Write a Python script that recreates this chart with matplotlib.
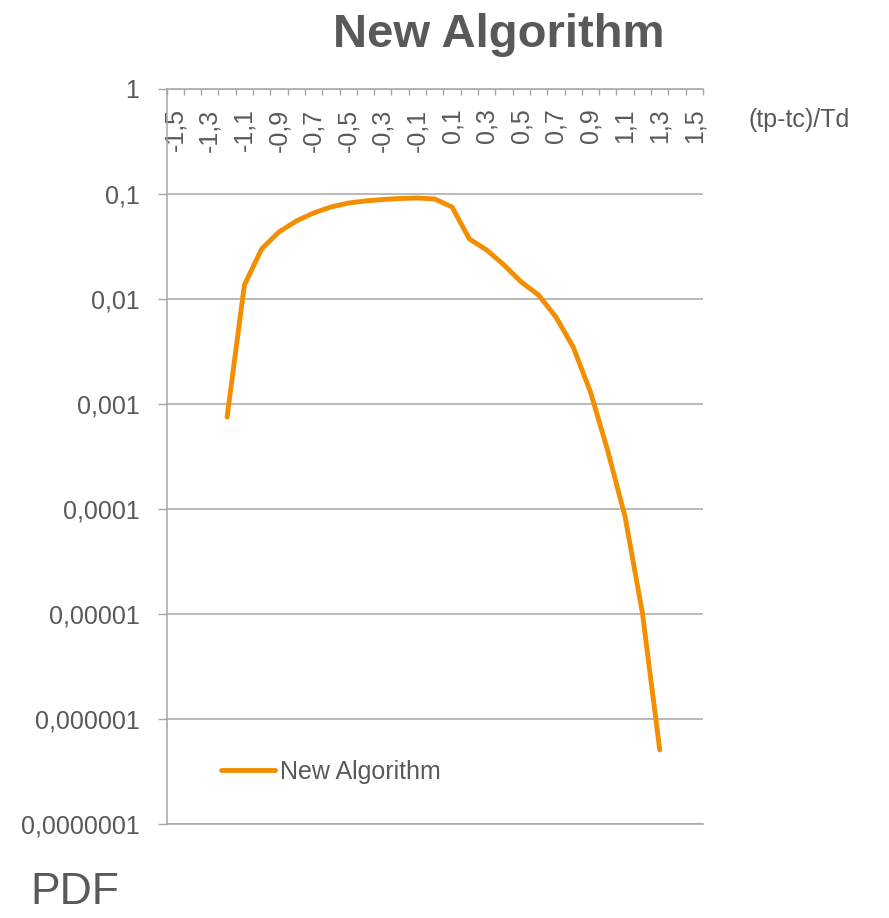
import matplotlib
matplotlib.use('Agg')
import matplotlib.pyplot as plt
from matplotlib.ticker import FixedLocator, NullFormatter

plt.rcParams['font.family'] = ['Liberation Sans', 'DejaVu Sans']

# data
x_vals = [-1.2, -1.1, -1.0, -0.9, -0.8, -0.7, -0.6, -0.5, -0.4, -0.3, -0.2, -0.1, 0.0,
          0.1, 0.2, 0.3, 0.4, 0.5, 0.6, 0.7, 0.8, 0.9, 1.0, 1.1, 1.2, 1.3]
pdf_vals = [7.5e-4, 0.0136, 0.030, 0.0435, 0.0553, 0.066, 0.0752, 0.082, 0.0858, 0.0887,
            0.0906, 0.0916, 0.0896, 0.0752, 0.0373, 0.0293, 0.0211, 0.0145, 0.0109,
            0.00674, 0.00349, 0.0013, 3.57e-4, 8.4e-5, 1.02e-5, 5.07e-7]

x_labels = ['-1,5', '-1,3', '-1,1', '-0,9', '-0,7', '-0,5', '-0,3', '-0,1',
            '0,1', '0,3', '0,5', '0,7', '0,9', '1,1', '1,3', '1,5']
x_label_pos = [-1.5, -1.3, -1.1, -0.9, -0.7, -0.5, -0.3, -0.1,
               0.1, 0.3, 0.5, 0.7, 0.9, 1.1, 1.3, 1.5]
# category boundaries (ticks sit between categories)
x_bounds = [-1.55, -1.45, -1.35, -1.25, -1.15, -1.05, -0.95, -0.85, -0.75, -0.65, -0.55,
            -0.45, -0.35, -0.25, -0.15, -0.05, 0.05, 0.15, 0.25, 0.35, 0.45, 0.55,
            0.65, 0.75, 0.85, 0.95, 1.05, 1.15, 1.25, 1.35, 1.45, 1.55]

y_ticks = [1e-7, 1e-6, 1e-5, 1e-4, 1e-3, 1e-2, 1e-1, 1]
y_labels = ['0,0000001', '0,000001', '0,00001', '0,0001', '0,001', '0,01', '0,1', '1']

txt = '#595959'
grey = '#a6a6a6'
orange = '#F28E00'

fig = plt.figure(figsize=(8.89, 9.18), dpi=100)
ax = fig.add_axes([166.5 / 889, 1 - 824 / 918, (703 - 166.5) / 889, (824 - 89) / 918])

ax.plot(x_vals, pdf_vals, color=orange, lw=3.5, solid_capstyle='round',
        solid_joinstyle='round', label='New Algorithm')

ax.set_yscale('log')
ax.set_ylim(1e-7, 1)
ax.set_xlim(-1.55, 1.55)

ax.set_yticks(y_ticks)
ax.set_yticklabels(y_labels)
ax.yaxis.set_minor_locator(FixedLocator([]))
ax.tick_params(axis='y', which='major', direction='out', length=6.5, width=1,
               color=grey, labelsize=18, labelcolor=txt, pad=13)
ax.grid(axis='y', color=grey, lw=1.1)
ax.set_axisbelow(True)

# x axis sits at the top (y = 1), labels hang below it
ax.xaxis.set_major_locator(FixedLocator(x_label_pos))
ax.set_xticklabels(x_labels)
ax.xaxis.set_minor_locator(FixedLocator(x_bounds))
ax.xaxis.set_minor_formatter(NullFormatter())
ax.tick_params(axis='x', which='both', top=True, bottom=False,
               labeltop=True, labelbottom=False)
ax.tick_params(axis='x', which='major', length=0, labelsize=18, labelcolor=txt,
               labelrotation=90, pad=-14)
ax.tick_params(axis='x', which='minor', direction='in', length=4.5, width=1, color=grey)
for lab in ax.get_xticklabels():
    lab.set_va('top')

for side in ['left', 'top', 'bottom']:
    ax.spines[side].set_color(grey)
    ax.spines[side].set_linewidth(1.1)
ax.spines['right'].set_visible(False)

fig.text(499 / 889, 1 - 47 / 918, 'New Algorithm', fontsize=34, fontweight='bold',
         color=txt, ha='center', va='baseline')
fig.text(748 / 889, 1 - 120 / 918, '(tp-tc)/Td', fontsize=18, color=txt,
         ha='left', va='center')
fig.text(30 / 889, 1 - 872 / 918, 'PDF', fontsize=32, color=txt, ha='left', va='top')

ax.legend(loc='center left', bbox_to_anchor=(221 / 889, 1 - 772 / 918),
          bbox_transform=fig.transFigure, frameon=False, fontsize=18,
          labelcolor=txt, handlelength=2.15, handletextpad=0.2,
          borderpad=0, borderaxespad=0)

fig.savefig('out.png', dpi=100)
